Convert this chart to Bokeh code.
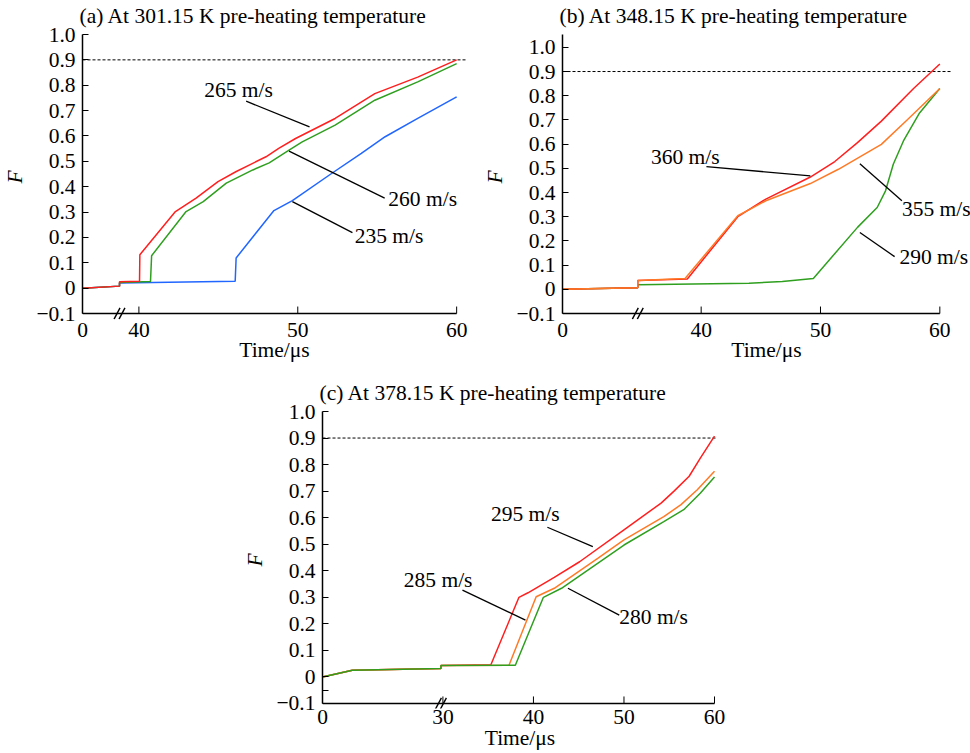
from bokeh.plotting import figure
from bokeh.layouts import column, row, Spacer
from bokeh.models import FixedTicker, CustomJSTickFormatter, Label, Range1d, Title
from bokeh.embed import file_html
from bokeh.resources import INLINE

FONT = "Liberation Serif"
FS = "21.5px"

RED = "#ff1f1f"
GREEN = "#2f9f1f"
BLUE = "#2166ff"
ORANGE = "#ff7a26"

# ---------------- data (time in microseconds, F fraction) ----------------
# Panel (a) 301.15 K
a_t_235 = [0, 38.78, 38.78, 46.06, 46.12, 48.5, 49.66, 52.15, 54.0, 55.5, 57.55, 60]
a_F_235 = [0.0, 0.008, 0.020, 0.027, 0.119, 0.306, 0.345, 0.453, 0.531, 0.597, 0.669, 0.754]
a_t_260 = [0, 38.78, 38.78, 40.73, 40.8, 42.97, 44.05, 45.5, 47.17, 48.2, 49.45, 50.28, 52.35, 54.85, 57.55, 60]
a_F_260 = [0.0, 0.008, 0.022, 0.026, 0.128, 0.302, 0.341, 0.414, 0.466, 0.494, 0.544, 0.577, 0.643, 0.741, 0.813, 0.885]
a_t_265 = [0, 38.78, 38.78, 40.04, 40.06, 42.3, 43.6, 44.98, 46.1, 48.0, 48.8, 49.86, 52.35, 54.85, 57.55, 60]
a_F_265 = [0.0, 0.008, 0.025, 0.027, 0.132, 0.302, 0.355, 0.420, 0.459, 0.518, 0.551, 0.590, 0.669, 0.767, 0.832, 0.900]

# Panel (b) 348.15 K
b_t_290 = [0, 34.69, 34.69, 44.0, 46.8, 49.4, 53.1, 54.75, 55.45, 56.1, 56.95, 58.3, 60]
b_F_290 = [0.0, 0.006, 0.019, 0.025, 0.032, 0.045, 0.256, 0.338, 0.407, 0.517, 0.613, 0.729, 0.830]
b_t_360 = [0, 34.69, 34.69, 38.84, 43.07, 45.42, 49.15, 51.2, 53.1, 55.1, 57.8, 60]
b_F_360 = [0.0, 0.006, 0.036, 0.043, 0.300, 0.373, 0.464, 0.528, 0.606, 0.695, 0.830, 0.931]
b_t_355 = [0, 34.69, 34.69, 38.65, 43.07, 45.42, 49.15, 51.5, 55.1, 57.3, 60]
b_F_355 = [0.0, 0.006, 0.036, 0.045, 0.304, 0.366, 0.437, 0.496, 0.599, 0.702, 0.830]

# Panel (c) 378.15 K
c_t_295 = [0, 7.5, 29.78, 29.78, 35.3, 38.4, 39.4, 42.3, 45.1, 50.0, 54.1, 55.5, 57.2, 58.45, 60]
c_F_295 = [0.0, 0.025, 0.032, 0.043, 0.046, 0.300, 0.317, 0.375, 0.434, 0.554, 0.655, 0.699, 0.756, 0.825, 0.907]
c_t_285 = [0, 7.5, 29.78, 29.78, 37.3, 40.3, 42.3, 47.1, 50.0, 54.4, 56.3, 58.1, 60]
c_F_285 = [0.0, 0.025, 0.032, 0.043, 0.044, 0.302, 0.334, 0.447, 0.516, 0.604, 0.649, 0.705, 0.775]
c_t_280 = [0, 7.5, 29.78, 29.78, 38.0, 41.1, 43.1, 50.0, 54.4, 56.6, 58.45, 60]
c_F_280 = [0.0, 0.025, 0.032, 0.043, 0.044, 0.300, 0.334, 0.497, 0.585, 0.630, 0.693, 0.753]

y_ticks = [round(-0.1 + 0.1 * i, 2) for i in range(12)]
threshold = 0.9

a_xticks = [0, 40, 50, 60]
b_xticks = [0, 40, 50, 60]
c_xticks = [0, 30, 40, 50, 60]


def make_panel(title, u0, ub, x_end, dash_end, y_end, sx, sy, W, H, borders,
               xticks, series, notes, minor_y=None, pad_px=6.0,
               lab_standoff=3, axlab_standoff=-2):
    """u0: axis position of t=0; ub: break position (times 0..ub compressed).
    sx, sy: pixels per unit (used for the break mark, ticks and bottom pad)."""
    def ax(t):
        return u0 + (ub - u0) * t / ub if t <= ub else t

    pad = pad_px / sy
    y_base = -0.1
    bl, br, bt, bb = borders
    p = figure(width=W, height=H, x_range=Range1d(u0, x_end),
               y_range=Range1d(y_base - pad, y_end), output_backend="svg",
               toolbar_location=None, min_border_left=bl, min_border_right=br,
               min_border_top=bt, min_border_bottom=bb, title=None)
    p.outline_line_color = None
    p.xgrid.visible = False
    p.ygrid.visible = False
    p.background_fill_color = "white"
    p.border_fill_color = "white"

    # small spacer between frame and title, then the title itself
    p.add_layout(Title(text=" ", text_font_size="4px", standoff=0), "above")
    p.add_layout(Title(text=title, text_font=FONT, text_font_size=FS,
                       text_font_style="normal", align="left", standoff=0,
                       offset=-3, text_color="black"), "above")

    tick_pos = [ax(t) for t in xticks]
    tick_lab = [str(t) for t in xticks]
    xa = p.xaxis[0]
    xa.ticker = FixedTicker(ticks=tick_pos)
    xa.formatter = CustomJSTickFormatter(args=dict(vals=tick_pos, labs=tick_lab), code="""
        for (let i = 0; i < vals.length; i++) {
            if (Math.abs(tick - vals[i]) < 1e-6) return labs[i];
        }
        return '';
    """)
    xa.axis_label = "Time/\u03bcs"
    xa.axis_label_text_font_style = "normal"
    xa.axis_line_color = None

    ya = p.yaxis[0]
    ya.ticker = FixedTicker(ticks=y_ticks, minor_ticks=minor_y or [])
    ya.formatter = CustomJSTickFormatter(code="""
        if (Math.abs(tick) < 1e-9) return '0';
        const s = Math.abs(tick).toFixed(1);
        return tick < 0 ? '\u2212' + s : s;
    """)
    ya.bounds = (y_base, y_end)
    ya.axis_label = "F"
    ya.axis_label_text_font_style = "italic"
    ya.axis_line_width = 1.5
    ya.axis_line_color = "black"

    for a in (xa, ya):
        a.major_tick_in = 6
        a.major_tick_out = 0
        a.major_tick_line_width = 1
        a.minor_tick_in = 0
        a.minor_tick_out = 0
        a.major_label_text_font = FONT
        a.major_label_text_font_size = FS
        a.major_label_text_color = "black"
        a.axis_label_text_font = FONT
        a.axis_label_text_font_size = FS
        a.axis_label_text_color = "black"
    xa.major_tick_in = 0
    xa.major_tick_line_color = None
    ya.minor_tick_in = 6
    ya.minor_tick_line_width = 1
    xa.major_label_standoff = lab_standoff
    xa.axis_label_standoff = axlab_standoff
    ya.major_label_standoff = 7
    ya.axis_label_standoff = 6

    # x axis line and inward ticks drawn at F = -0.1 (frame extends a few px lower
    # so the axis-break mark is not clipped)
    p.line([u0, 60], [y_base, y_base], line_color="black", line_width=1.5)
    p.segment(x0=tick_pos, y0=[y_base] * len(tick_pos), x1=tick_pos,
              y1=[y_base + 7.0 / sy] * len(tick_pos), line_color="black",
              line_width=1)

    # threshold line
    p.line([u0, dash_end], [threshold, threshold], line_color="black",
           line_dash="3 2", line_width=1)

    for t, F, col in series:
        p.line([ax(v) for v in t], F, line_color=col, line_width=1.5)

    for (tx, ty, txt, lx0, ly0, lx1, ly1) in notes:
        p.line([lx0, lx1], [ly0, ly1], line_color="black", line_width=1.3)
        p.add_layout(Label(x=tx, y=ty, text=txt, text_font=FONT,
                           text_font_size=FS, text_align="left",
                           text_baseline="middle", text_color="black"))

    # axis break marker "//"
    dx, dy, gap = 3.0 / sx, 5.6 / sy, 5.0 / sx
    for off in (-gap / 2, gap / 2):
        p.line([ub + off - dx, ub + off + dx], [y_base - dy, y_base + dy],
               line_color="black", line_width=1.4)
    return p


pa = make_panel(
    "(a) At 301.15 K pre-heating temperature", 36.45, 38.78, 60.62, 60.62, 1.0,
    16.05, 254.5, 480, 370, (78, 14, 34, 50), a_xticks,
    [(a_t_235, a_F_235, BLUE), (a_t_260, a_F_260, GREEN), (a_t_265, a_F_265, RED)],
    [(44.11, 0.780, "265 m/s", 46.75, 0.737, 50.74, 0.636),
     (55.70, 0.352, "260 m/s", 49.45, 0.540, 55.47, 0.355),
     (53.58, 0.206, "235 m/s", 49.66, 0.341, 53.44, 0.219)])

pb = make_panel(
    "(b) At 348.15 K pre-heating temperature", 28.38, 34.69, 62.57, 60.91, 1.053,
    12.05, 242.7, 490, 370, (78, 0, 33, 51), b_xticks,
    [(b_t_290, b_F_290, GREEN), (b_t_360, b_F_360, RED), (b_t_355, b_F_355, ORANGE)],
    [(35.79, 0.547, "360 m/s", 40.44, 0.507, 49.15, 0.469),
     (56.82, 0.333, "355 m/s", 53.30, 0.519, 56.82, 0.366),
     (56.62, 0.132, "290 m/s", 53.30, 0.235, 56.21, 0.135)])

pc = make_panel(
    "(c) At 378.15 K pre-heating temperature", 16.70, 29.78, 60.33, 60.33, 1.0,
    9.1, 264.5, 500, 383, (80, 23, 41, 45), c_xticks,
    [(c_t_295, c_F_295, RED), (c_t_285, c_F_285, ORANGE), (c_t_280, c_F_280, GREEN)],
    [(35.31, 0.615, "295 m/s", 41.54, 0.564, 46.56, 0.491),
     (25.68, 0.365, "285 m/s", 32.16, 0.327, 39.12, 0.214),
     (49.48, 0.226, "280 m/s", 43.81, 0.334, 49.48, 0.233)],
    minor_y=[-0.05], pad_px=5.0, lab_standoff=1, axlab_standoff=-1)

layout = column(row(pa, pb), row(Spacer(width=240, height=383), pc))

with open("out.html", "w") as f:
    f.write(file_html(layout, INLINE))
